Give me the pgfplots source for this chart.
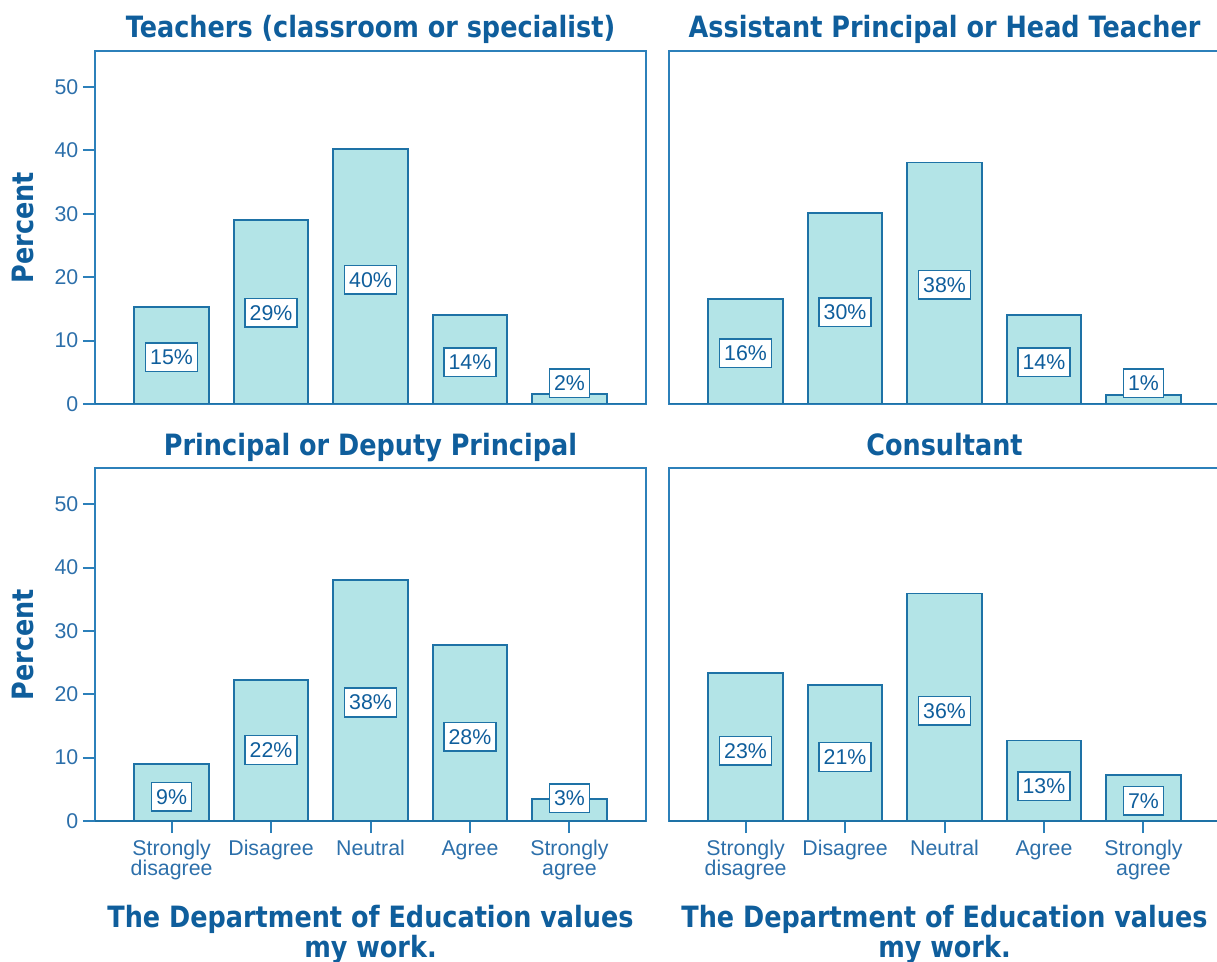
\documentclass[border=0pt]{standalone}
\usepackage{fontspec}
\setmainfont{Liberation Sans}
\newfontfamily\titlefont{DejaVu Sans}[FakeStretch=0.87]
\usepackage{pgfplots}
\pgfplotsset{compat=1.18}

\definecolor{titleblue}{HTML}{0F5E9C}
\definecolor{tickblue}{HTML}{2C6FAA}
\definecolor{frameblue}{HTML}{2C80BA}
\definecolor{barfill}{HTML}{B3E4E7}
\definecolor{baredge}{HTML}{1E72A6}

\pgfplotsset{
  panel/.style={
    scale only axis, width=413.25pt, height=264.75pt,
    anchor=south west,
    xmin=-0.77, xmax=4.77, ymin=0, ymax=55.7,
    axis line style={frameblue, line width=1.5pt},
    tick style={frameblue, line width=1.5pt},
    tick align=outside, major tick length=9pt,
    xtick pos=lower, ytick pos=left,
    /pgf/number format/assume math mode=true,
    ticklabel style={font=\fontsize{16}{15}\selectfont, text=tickblue},
    title style={at={(axis description cs:0.5,1)}, anchor=base, yshift=3.75pt, inner sep=0pt,
      font=\titlefont\bfseries\fontsize{22}{24}\selectfont, text=titleblue},
    ylabel style={at={(axis description cs:-0.1116,0.5)}, anchor=base, rotate=0,
      font=\titlefont\bfseries\fontsize{22}{24}\selectfont, text=titleblue},
    xlabel style={at={(axis description cs:0.5,0)}, anchor=north, yshift=-63pt, inner sep=0pt, align=center,
      font=\titlefont\bfseries\fontsize{22}{20.25}\selectfont, text=titleblue},
  },
  leftpanel/.style={ytick={0,10,20,30,40,50}, ylabel={Percent}},
  rightpanel/.style={ytick=\empty},
  toppanel/.style={xtick=\empty},
  bottompanel/.style={xtick={0,1,2,3,4},
    xticklabels={{Strongly\\disagree},Disagree,Neutral,Agree,{Strongly\\agree}},
    xticklabel style={align=center, yshift=-2pt},
    xlabel={The Department of Education values\\my work.}},
  bars/.style={ybar, bar width=0.75, fill=barfill, draw=baredge, line width=1.4pt},
  pctlabels/.style={draw=none, mark=none, nodes near coords, point meta=explicit symbolic,
    nodes near coords style={anchor=center, fill=white, draw=baredge, line width=1.2pt,
      text=titleblue, font=\fontsize{16}{16}\selectfont,
      inner xsep=3.5pt, inner ysep=0pt, minimum height=21.5pt}},
}

\begin{document}
\begin{tikzpicture}
\useasboundingbox (0,0) rectangle (912.75pt,-721.5pt);

% Teachers
\begin{axis}[panel, leftpanel, toppanel, at={(71.25pt,-303pt)},
  title={Teachers (classroom or specialist)}]
\addplot[bars] coordinates {(0,15.3) (1,29.1) (2,40.2) (3,14.1) (4,1.6)};
\addplot[pctlabels] coordinates {(0,7.4)[15\%] (1,14.4)[29\%] (2,19.6)[40\%] (3,6.6)[14\%] (4,3.3)[2\%]};
\draw[baredge, line width=2.2pt] (rel axis cs:0,0) -- (rel axis cs:1,0);
\end{axis}

% Assistant Principal
\begin{axis}[panel, rightpanel, toppanel, at={(501.75pt,-303pt)},
  title={Assistant Principal or Head Teacher}]
\addplot[bars] coordinates {(0,16.5) (1,30.2) (2,38.1) (3,14.1) (4,1.4)};
\addplot[pctlabels] coordinates {(0,8.0)[16\%] (1,14.5)[30\%] (2,18.8)[38\%] (3,6.6)[14\%] (4,3.3)[1\%]};
\draw[baredge, line width=2.2pt] (rel axis cs:0,0) -- (rel axis cs:1,0);
\end{axis}

% Principal
\begin{axis}[panel, leftpanel, bottompanel, at={(71.25pt,-615.75pt)},
  title={Principal or Deputy Principal}]
\addplot[bars] coordinates {(0,9.0) (1,22.3) (2,38.0) (3,27.8) (4,3.5)};
\addplot[pctlabels] coordinates {(0,3.8)[9\%] (1,11.2)[22\%] (2,18.7)[38\%] (3,13.3)[28\%] (4,3.6)[3\%]};
\draw[baredge, line width=2.2pt] (rel axis cs:0,0) -- (rel axis cs:1,0);
\end{axis}

% Consultant
\begin{axis}[panel, rightpanel, bottompanel, at={(501.75pt,-615.75pt)},
  title={Consultant}]
\addplot[bars] coordinates {(0,23.4) (1,21.5) (2,35.9) (3,12.7) (4,7.3)};
\addplot[pctlabels] coordinates {(0,11.1)[23\%] (1,10.1)[21\%] (2,17.4)[36\%] (3,5.5)[13\%] (4,3.2)[7\%]};
\draw[baredge, line width=2.2pt] (rel axis cs:0,0) -- (rel axis cs:1,0);
\end{axis}
\end{tikzpicture}
\end{document}
